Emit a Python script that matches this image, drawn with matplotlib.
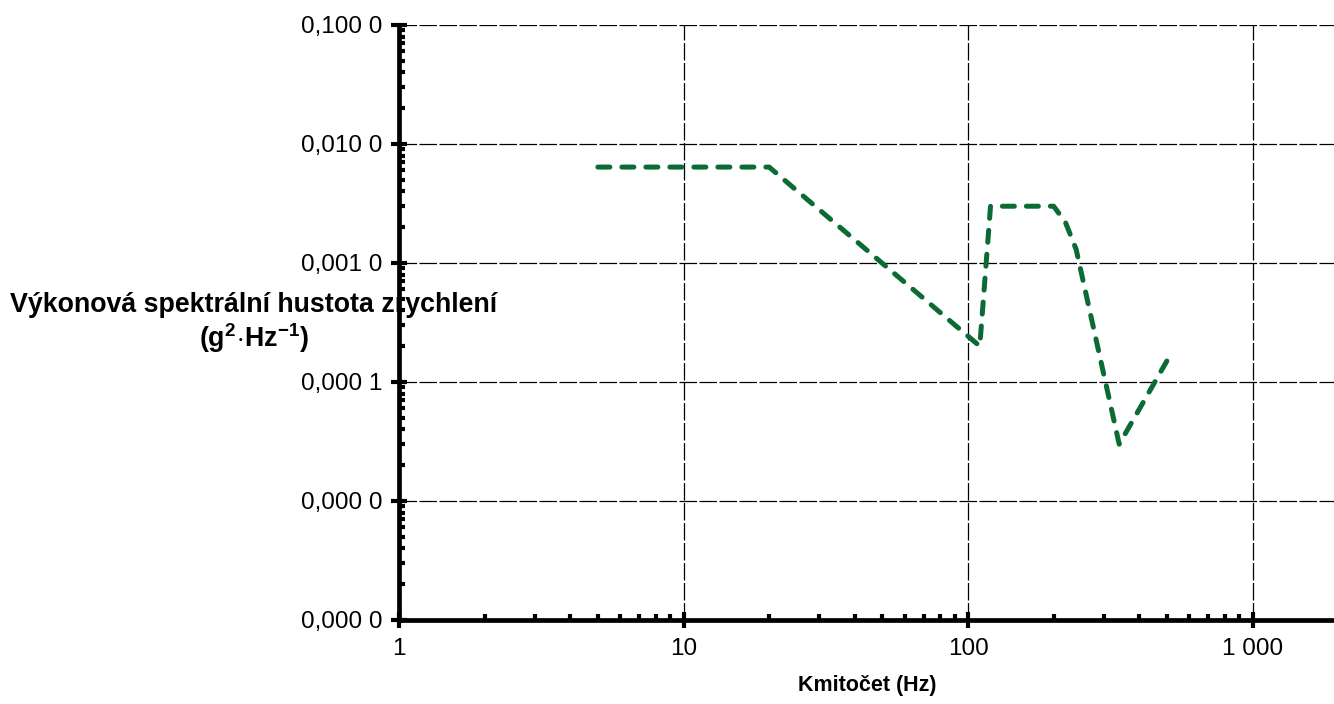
import matplotlib
matplotlib.use("Agg")
import matplotlib.pyplot as plt
from matplotlib.ticker import FixedLocator, LogLocator, NullFormatter, FixedFormatter

plt.rcParams['font.family'] = ['Liberation Sans', 'DejaVu Sans']
plt.rcParams['mathtext.fontset'] = 'custom'
plt.rcParams['mathtext.rm'] = 'Liberation Sans'
plt.rcParams['mathtext.bf'] = 'Liberation Sans:bold'
plt.rcParams['mathtext.it'] = 'Liberation Sans:italic'

# Data
freq = [5, 20, 110, 120, 200, 220, 240, 340, 500]
psd = [0.0064, 0.0064, 0.0002, 0.003, 0.003, 0.0022, 0.0013, 0.00003, 0.00015]

x_ticks = [1, 10, 100, 1000]
x_labels = ["1", "10", "100", "1 000"]
y_ticks = [1e-6, 1e-5, 1e-4, 1e-3, 1e-2, 1e-1]
y_labels = ["0,000 0", "0,000 0", "0,000 1", "0,001 0", "0,010 0", "0,100 0"]

W, H = 1334, 704
fig = plt.figure(figsize=(W / 100, H / 100), dpi=100)
ax = fig.add_axes([399 / W, 1 - 620 / H, 1 - 399 / W, (620 - 25) / H])

ax.set_xscale('log')
ax.set_yscale('log')
ax.set_xlim(1, 10 ** ((W - 399) / 284.5))
ax.set_ylim(1e-6, 1e-1)

ax.plot(freq, psd, color='#0b6b34', lw=3.6, linestyle=(0, (2.4, 2.4)),
        dash_capstyle='round', solid_capstyle='round', zorder=3, clip_on=False)

ax.xaxis.set_major_locator(FixedLocator(x_ticks))
ax.xaxis.set_major_formatter(FixedFormatter(x_labels))
ax.yaxis.set_major_locator(FixedLocator(y_ticks))
ax.yaxis.set_major_formatter(FixedFormatter(y_labels))
ax.xaxis.set_minor_locator(LogLocator(base=10, subs=range(2, 10), numticks=20))
ax.yaxis.set_minor_locator(LogLocator(base=10, subs=range(2, 10), numticks=20))
ax.xaxis.set_minor_formatter(NullFormatter())
ax.yaxis.set_minor_formatter(NullFormatter())

ax.grid(True, which='major', color='black', lw=0.9, linestyle=(0, (14, 2)))

for s in ['top', 'right']:
    ax.spines[s].set_visible(False)
for s in ['left', 'bottom']:
    ax.spines[s].set_linewidth(3.4)
    ax.spines[s].set_zorder(4)

ax.tick_params(which='major', direction='inout', length=12, width=3, labelsize=17.5, pad=7)
ax.tick_params(axis='y', which='major', pad=6)
ax.tick_params(which='minor', direction='in', length=4, width=3)

fig.text(867 / W, 1 - 686 / H, 'Kmitočet (Hz)',
         fontsize=15.5, fontweight='bold', ha='center', va='center')
fig.text(254 / W, 1 - 305 / H, 'Výkonová spektrální hustota zrychlení',
         fontsize=19.3, fontweight='bold', ha='center', va='center')
fig.text(254 / W, 1 - 338 / H, r'$\mathbf{(g^{2}\!\cdot\! Hz^{-1})}$',
         fontsize=19.3, ha='center', va='center')

fig.savefig('out.png', dpi=100)
